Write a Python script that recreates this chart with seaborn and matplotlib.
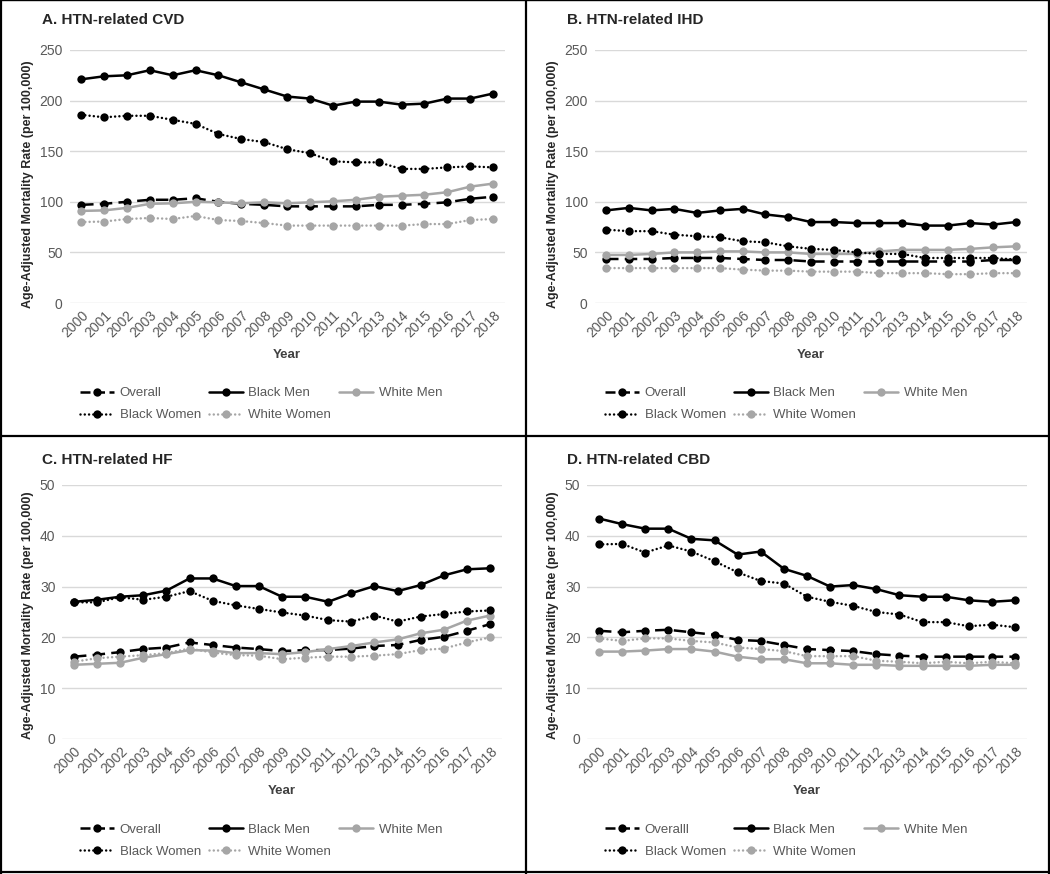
import pandas as pd
import matplotlib
matplotlib.use("Agg")
import matplotlib.pyplot as plt
import seaborn as sns
from matplotlib.lines import Line2D

years = list(range(2000, 2019))
groups = ["Overall", "Black Men", "White Men", "Black Women", "White Women"]

# A. HTN-related CVD
cvd_overall = [97, 98, 100, 102, 102, 103.5, 100, 98, 97, 95.5, 95.5, 95.5, 95.5, 97, 97, 98, 99.5, 103, 105]
cvd_black_men = [221, 224, 225, 230, 225, 230, 225, 218, 211, 204, 202, 195, 199, 199, 196, 197, 202, 202, 207]
cvd_white_men = [91, 91.5, 94, 98, 98.5, 100, 99.5, 98.5, 99.5, 98.5, 99.5, 100.5, 102, 105, 106, 107, 109.5, 115, 118]
cvd_black_women = [186, 183.5, 185, 185, 181, 177, 167, 162, 159, 152, 148, 140, 139, 139, 132.5, 132.5, 134, 135, 134]
cvd_white_women = [80, 80.5, 83, 84, 83, 86, 82, 81, 79, 76.5, 76.5, 76.5, 76.5, 76.5, 76.5, 78, 78, 82, 83]

# B. HTN-related IHD
ihd_overall = [43.5, 43.5, 43.5, 44.5, 44.5, 44.5, 43.5, 42.5, 42.5, 41, 41, 41, 41, 41, 41, 41, 41, 42.5, 42.5]
ihd_black_men = [91.5, 94, 91.5, 93, 89, 91.5, 93, 87.5, 85, 80, 80, 79, 79, 79, 76.5, 76.5, 79, 77.5, 80]
ihd_white_men = [47.5, 47.5, 48.5, 50, 50, 51, 51, 50, 50, 48.5, 48.5, 48.5, 51, 52.5, 52.5, 52.5, 53.5, 55, 56]
ihd_black_women = [72.5, 71, 71, 67.5, 66, 65, 61, 60, 56, 53.5, 52.5, 50, 48.5, 48.5, 44.5, 44.5, 44.5, 44.5, 43]
ihd_white_women = [34.5, 34.5, 34.5, 34.5, 34.5, 34.5, 33, 32, 32, 31, 31, 31, 29.5, 29.5, 29.5, 28.5, 28.5, 29.5, 29.5]

# C. HTN-related HF
hf_overall = [16.2, 16.6, 17.1, 17.7, 18.0, 19.0, 18.5, 18.0, 17.7, 17.3, 17.5, 17.5, 17.8, 18.3, 18.5, 19.5, 20.1, 21.3, 22.6]
hf_black_men = [27.0, 27.4, 28.0, 28.3, 29.2, 31.6, 31.6, 30.1, 30.1, 28.0, 28.0, 27.0, 28.7, 30.1, 29.1, 30.3, 32.2, 33.4, 33.6]
hf_white_men = [14.6, 14.8, 15.0, 16.0, 16.7, 17.5, 17.4, 16.9, 16.9, 16.7, 17.1, 17.7, 18.3, 19.0, 19.6, 20.8, 21.5, 23.3, 24.3]
hf_black_women = [26.9, 26.9, 27.9, 27.4, 28.0, 29.1, 27.2, 26.3, 25.6, 24.9, 24.3, 23.4, 23.1, 24.3, 23.1, 24.1, 24.6, 25.1, 25.3]
hf_white_women = [15.2, 15.9, 16.2, 16.5, 16.9, 17.8, 17.0, 16.5, 16.4, 15.7, 16.0, 16.2, 16.2, 16.4, 16.7, 17.5, 17.8, 19.0, 20.0]

# D. HTN-related CBD
cbd_overall = [21.3, 21.0, 21.3, 21.5, 21.0, 20.5, 19.5, 19.3, 18.5, 17.7, 17.5, 17.3, 16.7, 16.4, 16.2, 16.2, 16.2, 16.2, 16.2]
cbd_black_men = [43.4, 42.3, 41.4, 41.4, 39.4, 39.1, 36.3, 36.9, 33.5, 32.1, 30.0, 30.3, 29.5, 28.3, 28.0, 28.0, 27.3, 27.0, 27.3]
cbd_white_men = [17.2, 17.2, 17.4, 17.7, 17.7, 17.2, 16.2, 15.7, 15.7, 14.9, 14.9, 14.6, 14.6, 14.4, 14.4, 14.4, 14.4, 14.6, 14.6]
cbd_black_women = [38.3, 38.4, 36.7, 38.1, 36.9, 35.0, 32.8, 31.1, 30.6, 28.0, 27.0, 26.2, 25.0, 24.5, 23.0, 23.0, 22.2, 22.5, 22.0]
cbd_white_women = [19.8, 19.3, 19.8, 19.8, 19.3, 19.0, 18.0, 17.7, 17.3, 16.3, 16.3, 16.3, 15.4, 15.2, 14.9, 15.2, 14.9, 15.2, 14.9]

panels = [
    ("A. HTN-related CVD", [cvd_overall, cvd_black_men, cvd_white_men, cvd_black_women, cvd_white_women], 250, 50, "Overall"),
    ("B. HTN-related IHD", [ihd_overall, ihd_black_men, ihd_white_men, ihd_black_women, ihd_white_women], 250, 50, "Overall"),
    ("C. HTN-related HF", [hf_overall, hf_black_men, hf_white_men, hf_black_women, hf_white_women], 50, 10, "Overall"),
    ("D. HTN-related CBD", [cbd_overall, cbd_black_men, cbd_white_men, cbd_black_women, cbd_white_women], 50, 10, "Overalll"),
]

BLACK = "#000000"
GREY = "#a6a6a6"
palette = {"Overall": BLACK, "Black Men": BLACK, "White Men": GREY,
           "Black Women": BLACK, "White Women": GREY}
dashes = {"Overall": (5, 2.5), "Black Men": "", "White Men": "",
          "Black Women": (0.01, 1.7), "White Women": (0.01, 1.7)}
capstyle = {"Overall": "butt", "Black Men": "round", "White Men": "round",
            "Black Women": "round", "White Women": "round"}
markers = {g: "o" for g in groups}

sns.set_theme(style="white")
plt.rcParams["font.family"] = ["Liberation Sans", "DejaVu Sans"]

fig = plt.figure(figsize=(10.5, 8.74), dpi=100)

# axes rectangles (fig fraction) and legend x offsets
rects = [
    [0.0663, 0.6533, 0.4143, 0.2895],
    [0.5663, 0.6533, 0.4122, 0.2895],
    [0.0594, 0.1545, 0.4183, 0.2906],
    [0.5594, 0.1545, 0.4183, 0.2906],
]
leg_x = [0.024, 0.024, 0.04, 0.04]
title_pos = [(42, 20), (567, 20), (42, 460), (567, 460)]
ylabel_y = [184, 184, 615, 615]

for i, (title, series, ymax, ystep, overall_name) in enumerate(panels):
    ax = fig.add_axes(rects[i])
    df = pd.DataFrame({
        "Year": years * len(groups),
        "Rate": [v for s in series for v in s],
        "Group": [g for g in groups for _ in years],
    })
    sns.lineplot(data=df, x="Year", y="Rate", hue="Group", style="Group",
                 hue_order=groups, style_order=groups, palette=palette,
                 dashes=dashes, markers=markers, markersize=6,
                 markeredgewidth=0, linewidth=1.8, legend=False, ax=ax)
    for ln, g in zip(ax.lines, groups):
        ln.set_dash_capstyle(capstyle[g])
    ax.set_xlim(1999.5, 2018.5)
    ax.set_ylim(0, ymax)
    ax.set_yticks(range(0, ymax + 1, ystep))
    ax.set_xticks(years)
    ax.set_xticklabels([str(y) for y in years], rotation=45, ha="right",
                       rotation_mode="anchor")
    ax.tick_params(axis="both", length=0, labelsize=10, colors="#595959")
    ax.tick_params(axis="y", pad=5)
    ax.tick_params(axis="x", pad=4)
    ax.grid(axis="y", color="#d9d9d9", linewidth=1)
    ax.set_axisbelow(True)
    for sp in ax.spines.values():
        sp.set_visible(False)
    ax.set_ylabel("")
    ax.set_xlabel("Year", fontsize=9.5, fontweight="bold", color="#404040")
    ax.xaxis.set_label_coords(0.5, -0.18)

    tx, ty = title_pos[i]
    fig.text(tx / 1050, 1 - ty / 874, title, fontsize=11, fontweight="bold",
             ha="left", va="center")
    fig.text((tx - 14) / 1050, 1 - ylabel_y[i] / 874,
             "Age-Adjusted Mortality Rate (per 100,000)",
             rotation=90, fontsize=9, fontweight="bold", ha="center", va="center")

    labels = [overall_name, "Black Men", "White Men", "Black Women", "White Women"]
    handles = []
    for g in groups:
        d = dashes[g]
        h = Line2D([], [], color=palette[g], marker="o", markersize=6,
                   markeredgewidth=0, linewidth=1.8, dash_capstyle=capstyle[g])
        if d:
            h.set_dashes(d)
        handles.append(h)
    handles[0].set_dashes((4, 1.8))
    order = [0, 3, 1, 4, 2]
    ax.legend([handles[k] for k in order], [labels[k] for k in order],
              ncol=3, loc="center left", bbox_to_anchor=(leg_x[i], -0.4),
              frameon=False, fontsize=9.5, labelcolor="#595959",
              handlelength=2.6, handletextpad=0.4, columnspacing=0.6,
              labelspacing=0.75, borderpad=0, borderaxespad=0)

# panel borders
bc = "#000000"
fig.add_artist(Line2D([525.5 / 1050] * 2, [0, 1], color=bc, lw=1.6))
fig.add_artist(Line2D([0, 1], [1 - 435.7 / 874] * 2, color=bc, lw=1.6))
fig.add_artist(Line2D([0.0008, 0.0008], [0, 1], color=bc, lw=1.6))
fig.add_artist(Line2D([0.9988, 0.9988], [0, 1], color=bc, lw=1.6))
fig.add_artist(Line2D([0, 1], [0.0025, 0.0025], color=bc, lw=1.6))
fig.add_artist(Line2D([0, 1], [0.9995, 0.9995], color=bc, lw=1.0))

fig.savefig("out.png", dpi=100)
